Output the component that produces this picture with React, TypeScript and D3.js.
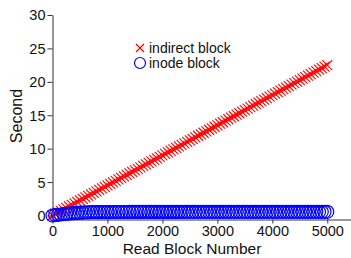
import { useEffect, useRef } from 'react';
import * as d3 from 'd3';

// block numbers read along the x axis
const blocks = [
  0, 50, 100, 150, 200, 250, 300, 350, 400, 450,
  500, 550, 600, 650, 700, 750, 800, 850, 900, 950,
  1000, 1050, 1100, 1150, 1200, 1250, 1300, 1350, 1400, 1450,
  1500, 1550, 1600, 1650, 1700, 1750, 1800, 1850, 1900, 1950,
  2000, 2050, 2100, 2150, 2200, 2250, 2300, 2350, 2400, 2450,
  2500, 2550, 2600, 2650, 2700, 2750, 2800, 2850, 2900, 2950,
  3000, 3050, 3100, 3150, 3200, 3250, 3300, 3350, 3400, 3450,
  3500, 3550, 3600, 3650, 3700, 3750, 3800, 3850, 3900, 3950,
  4000, 4050, 4100, 4150, 4200, 4250, 4300, 4350, 4400, 4450,
  4500, 4550, 4600, 4650, 4700, 4750, 4800, 4850, 4900, 4950,
  5000,
];

// seconds, indirect block
const indirect = [
  0, 0.23, 0.45, 0.68, 0.9, 1.13, 1.35, 1.58, 1.8, 2.03,
  2.25, 2.48, 2.7, 2.93, 3.15, 3.38, 3.6, 3.83, 4.05, 4.28,
  4.5, 4.73, 4.95, 5.18, 5.4, 5.63, 5.85, 6.08, 6.3, 6.53,
  6.75, 6.98, 7.2, 7.43, 7.65, 7.88, 8.1, 8.33, 8.55, 8.78,
  9.0, 9.23, 9.45, 9.68, 9.9, 10.13, 10.35, 10.58, 10.8, 11.03,
  11.25, 11.48, 11.7, 11.93, 12.15, 12.38, 12.6, 12.83, 13.05, 13.28,
  13.5, 13.73, 13.95, 14.18, 14.4, 14.63, 14.85, 15.08, 15.3, 15.53,
  15.75, 15.98, 16.2, 16.43, 16.65, 16.88, 17.1, 17.33, 17.55, 17.78,
  18.0, 18.23, 18.45, 18.68, 18.9, 19.13, 19.35, 19.58, 19.8, 20.03,
  20.25, 20.48, 20.7, 20.93, 21.15, 21.38, 21.6, 21.83, 22.05, 22.28,
  22.5,
];

// seconds, inode block
const inode = [
  0, 0.05, 0.1, 0.15, 0.2, 0.25, 0.29, 0.33, 0.36, 0.39,
  0.42, 0.44, 0.46, 0.48, 0.49, 0.5, 0.5, 0.5, 0.51, 0.51,
  0.51, 0.51, 0.52, 0.52, 0.52, 0.52, 0.52, 0.52, 0.53, 0.53,
  0.53, 0.53, 0.53, 0.53, 0.53, 0.53, 0.54, 0.54, 0.54, 0.54,
  0.54, 0.54, 0.54, 0.54, 0.54, 0.54, 0.54, 0.55, 0.55, 0.55,
  0.55, 0.55, 0.55, 0.55, 0.55, 0.55, 0.55, 0.55, 0.55, 0.55,
  0.55, 0.55, 0.55, 0.55, 0.55, 0.55, 0.55, 0.55, 0.55, 0.55,
  0.55, 0.55, 0.55, 0.55, 0.55, 0.55, 0.55, 0.55, 0.55, 0.55,
  0.55, 0.55, 0.55, 0.55, 0.55, 0.55, 0.55, 0.55, 0.55, 0.55,
  0.55, 0.55, 0.55, 0.55, 0.55, 0.55, 0.55, 0.55, 0.55, 0.55,
  0.55,
];

const xTicks = [0, 1000, 2000, 3000, 4000, 5000];
const yTicks = [0, 5, 10, 15, 20, 25, 30];
const seriesNames = ['indirect block', 'inode block'];

export default function App() {
  const ref = useRef<SVGSVGElement>(null);

  useEffect(() => {
    const width = 351;
    const height = 258;
    const font = 'Liberation Sans, Arial, Helvetica, sans-serif';

    const svg = d3.select(ref.current);
    svg.selectAll('*').remove();

    const x = d3.scaleLinear().domain([0, 5450]).range([52.5, 352]);
    const y = d3.scaleLinear().domain([-0.6, 30]).range([219.5, 15]);

    // axes
    const xAxis = svg.append('g')
      .attr('transform', `translate(0,${y(-0.6)})`)
      .call(d3.axisBottom(x).tickValues(xTicks).tickFormat(d3.format('d')).tickSize(4).tickSizeOuter(0).tickPadding(3));
    const yAxis = svg.append('g')
      .attr('transform', `translate(${x(0)},0)`)
      .call(d3.axisLeft(y).tickValues(yTicks).tickSize(5).tickSizeOuter(0).tickPadding(2));

    [xAxis, yAxis].forEach(a => {
      a.select('.domain').attr('stroke', '#333');
      a.selectAll('.tick line').attr('stroke', '#333');
      a.selectAll('.tick text')
        .attr('font-family', font)
        .attr('font-size', 14.5)
        .attr('fill', '#111');
    });
    yAxis.selectAll('.tick text').attr('dy', '0.34em');
    xAxis.selectAll('.tick text').attr('dy', '0.68em');

    // red crosses
    const cross = 5;
    const crosses = svg.append('g')
      .attr('stroke', '#ff0000')
      .attr('stroke-width', 1.1)
      .attr('fill', 'none');
    crosses.selectAll('path')
      .data(blocks.map((b, i) => [b, indirect[i]]))
      .enter()
      .append('path')
      .attr('d', d => {
        const cx = x(d[0]);
        const cy = y(d[1]);
        return `M${cx - cross},${cy - cross}L${cx + cross},${cy + cross}M${cx - cross},${cy + cross}L${cx + cross},${cy - cross}`;
      });

    // blue circles
    svg.append('g')
      .selectAll('circle')
      .data(blocks.map((b, i) => [b, inode[i]]))
      .enter()
      .append('circle')
      .attr('cx', d => x(d[0]))
      .attr('cy', d => y(d[1]))
      .attr('r', 6.5)
      .attr('fill', 'none')
      .attr('stroke', '#0000ff')
      .attr('stroke-width', 1.2);

    // legend
    const leg = svg.append('g').attr('transform', 'translate(140,48)');
    leg.append('path')
      .attr('d', `M${-4},${-4}L${4},${4}M${-4},${4}L${4},${-4}`)
      .attr('stroke', '#ff0000')
      .attr('stroke-width', 1.2)
      .attr('fill', 'none');
    leg.append('circle')
      .attr('cy', 15)
      .attr('r', 5.5)
      .attr('fill', 'none')
      .attr('stroke', '#0000ff')
      .attr('stroke-width', 1.2);
    leg.selectAll('text')
      .data(seriesNames)
      .enter()
      .append('text')
      .attr('x', 9)
      .attr('y', (d, i) => i * 15 + 5)
      .attr('font-family', font)
      .attr('font-size', 14)
      .attr('fill', '#111')
      .text(d => d);

    // axis titles
    svg.append('text')
      .attr('x', 192)
      .attr('y', 254)
      .attr('text-anchor', 'middle')
      .attr('font-family', font)
      .attr('font-size', 15.5)
      .attr('fill', '#111')
      .text('Read Block Number');
    svg.append('text')
      .attr('transform', 'translate(22,116) rotate(-90)')
      .attr('text-anchor', 'middle')
      .attr('font-family', font)
      .attr('font-size', 16)
      .attr('fill', '#111')
      .text('Second');

    svg.attr('width', width).attr('height', height);
  }, []);

  return (
    <div style={{ position: 'absolute', left: 0, top: 0, background: '#fff' }}>
      <svg ref={ref} width={351} height={258} style={{ display: 'block' }}></svg>
    </div>
  );
}
